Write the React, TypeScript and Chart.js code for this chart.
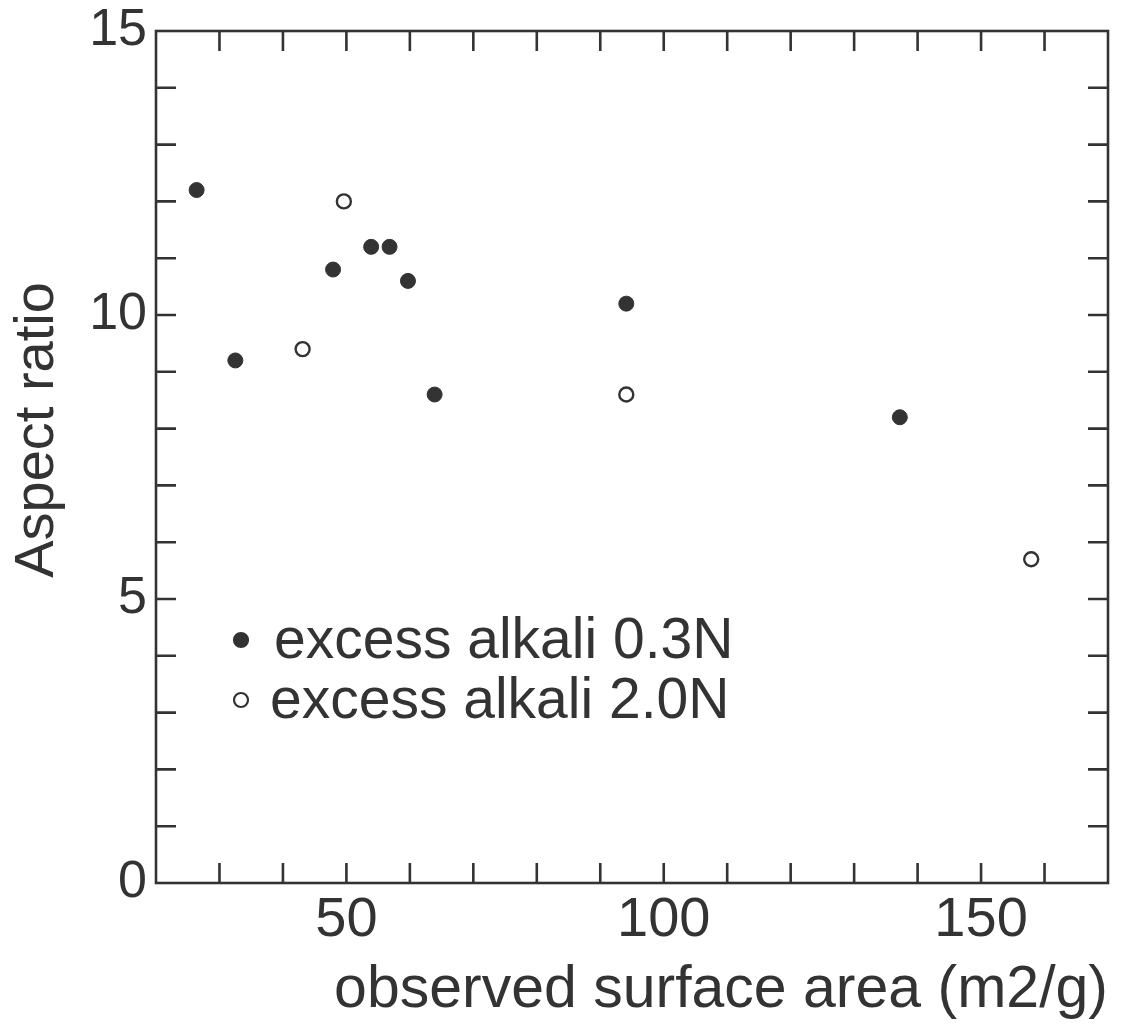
import React, { useEffect, useRef } from "react";
import { Chart, registerables } from "chart.js";

Chart.register(...registerables);

const series1Label = "excess alkali 0.3N";
const series2Label = "excess alkali 2.0N";
const series1X = [26.4, 32.5, 47.9, 53.9, 56.8, 59.7, 63.9, 94.1, 137.2];
const series1Y = [12.2, 9.2, 10.8, 11.2, 11.2, 10.6, 8.6, 10.2, 8.2];
const series2X = [49.6, 43.1, 94.1, 157.9];
const series2Y = [12.0, 9.4, 8.6, 5.7];
const xLabeledTicks = [50, 100, 150];
const yLabeledTicks = [0, 5, 10, 15];
const xTitle = "observed surface area (m2/g)";
const yTitle = "Aspect ratio";

const INK = "#333333";
const FONT = "'Liberation Sans', Arial, Helvetica, sans-serif";

const framePlugin = {
  id: "framePlugin",
  afterDatasetsDraw(chart: any) {
    const { ctx, chartArea } = chart;
    const { left, right, top, bottom } = chartArea;
    const xs = chart.scales.x;
    const ys = chart.scales.y;
    const tl = 20;
    ctx.save();
    ctx.strokeStyle = INK;
    ctx.lineWidth = 2.6;
    ctx.lineCap = "butt";
    ctx.strokeRect(left, top, right - left, bottom - top);
    ctx.beginPath();
    xs.ticks.forEach((t: any) => {
      if (t.value <= xs.min || t.value >= xs.max) return;
      const px = xs.getPixelForValue(t.value);
      ctx.moveTo(px, bottom);
      ctx.lineTo(px, bottom - tl);
      ctx.moveTo(px, top);
      ctx.lineTo(px, top + tl);
    });
    ys.ticks.forEach((t: any) => {
      if (t.value <= ys.min || t.value >= ys.max) return;
      const py = ys.getPixelForValue(t.value);
      ctx.moveTo(left, py);
      ctx.lineTo(left + tl, py);
      ctx.moveTo(right, py);
      ctx.lineTo(right - tl, py);
    });
    ctx.stroke();

    // y title
    ctx.fillStyle = INK;
    ctx.font = `56px ${FONT}`;
    ctx.textAlign = "center";
    ctx.textBaseline = "middle";
    ctx.translate(38, 430);
    ctx.rotate(-Math.PI / 2);
    ctx.fillText(yTitle, 0, 0);
    ctx.restore();

    // legend
    ctx.save();
    const items = chart.data.datasets.map((d: any, i: number) => ({
      label: d.label,
      fill: d.backgroundColor,
      y: i === 0 ? 640 : 700,
      textX: i === 0 ? 274 : 270,
    }));
    ctx.font = `57px ${FONT}`;
    ctx.textBaseline = "middle";
    ctx.textAlign = "left";
    items.forEach((it: any) => {
      ctx.beginPath();
      ctx.arc(241, it.y, 7, 0, Math.PI * 2);
      ctx.fillStyle = it.fill;
      ctx.fill();
      ctx.lineWidth = 2.2;
      ctx.strokeStyle = INK;
      ctx.stroke();
      ctx.fillStyle = INK;
      ctx.fillText(it.label, it.textX, it.y + 2);
    });
    ctx.restore();
  },
};

export default function App() {
  const ref = useRef<HTMLCanvasElement | null>(null);
  useEffect(() => {
    if (!ref.current) return;
    const chart = new Chart(ref.current, {
      type: "scatter",
      data: {
        datasets: [
          {
            label: series1Label,
            data: series1X.map((x, i) => ({ x, y: series1Y[i] })),
            backgroundColor: INK,
            borderColor: INK,
            borderWidth: 1,
            pointRadius: 7.5,
            pointStyle: "circle",
          },
          {
            label: series2Label,
            data: series2X.map((x, i) => ({ x, y: series2Y[i] })),
            backgroundColor: "#ffffff",
            borderColor: INK,
            borderWidth: 2.4,
            pointRadius: 7,
            pointStyle: "circle",
          },
        ],
      },
      options: {
        animation: false,
        responsive: false,
        maintainAspectRatio: false,
        layout: { padding: { left: 0, top: 31, right: 13, bottom: 0 } },
        plugins: {
          legend: { display: false },
          tooltip: { enabled: false },
        },
        scales: {
          x: {
            type: "linear",
            min: 20,
            max: 170,
            grid: { display: false, drawTicks: false },
            border: { display: false },
            ticks: {
              stepSize: 10,
              autoSkip: false,
              maxRotation: 0,
              padding: 4,
              color: INK,
              font: { family: FONT, size: 56 },
              callback: (v: any) => (xLabeledTicks.includes(Number(v)) ? String(v) : ""),
            },
            title: {
              display: true,
              text: xTitle,
              align: "end",
              color: INK,
              font: { family: FONT, size: 59 },
              padding: { top: 0, bottom: 4 },
            },
            afterFit: (s: any) => {
              s.height = 147;
              s.paddingLeft = 0;
              s.paddingRight = 0;
            },
          },
          y: {
            type: "linear",
            min: 0,
            max: 15,
            grid: { display: false, drawTicks: false },
            border: { display: false },
            ticks: {
              stepSize: 1,
              autoSkip: false,
              padding: 9,
              color: INK,
              font: { family: FONT, size: 52 },
              callback: (v: any) => (yLabeledTicks.includes(Number(v)) ? String(v) : ""),
            },
            afterFit: (s: any) => {
              s.width = 156;
              s.paddingTop = 0;
              s.paddingBottom = 0;
            },
          },
        },
      },
      plugins: [framePlugin],
    });
    return () => chart.destroy();
  }, []);
  return (
    <div style={{ position: "absolute", left: 0, top: 0, width: 1121, height: 1030, background: "#fff" }}>
      <canvas ref={ref} width={1121} height={1030} style={{ display: "block" }} />
    </div>
  );
}
